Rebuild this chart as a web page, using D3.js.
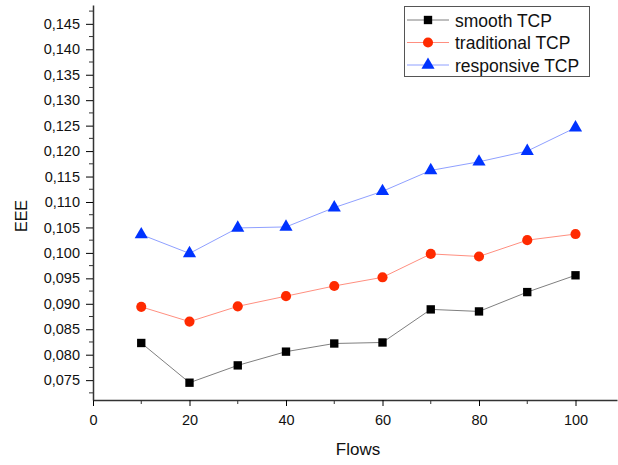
<!DOCTYPE html>
<html lang="en">
    <head>
        <meta charset="utf-8">
        <title>EEE vs Flows</title>
        <script type="text/javascript" src="https://cdn.jsdelivr.net/npm/d3@7"></script>
        <style>
            body { margin: 0; background: #fff; }
            text { font-family: "Liberation Sans", Arial, sans-serif; }
        </style>
    </head>
    <body>
        <script type="text/javascript">

            var flows = [10, 20, 30, 40, 50, 60, 70, 80, 90, 100];
            var smooth = [0.0823, 0.0745, 0.0779, 0.0806, 0.0822, 0.0824, 0.0889, 0.0885, 0.0923, 0.0956];
            var traditional = [0.0894, 0.0865, 0.0895, 0.0915, 0.0935, 0.0952, 0.0998, 0.0993, 0.1025, 0.1037];
            var responsive = [0.1036, 0.0999, 0.1049, 0.1051, 0.1089, 0.1121, 0.1162, 0.1179, 0.1200, 0.1246];
            var seriesNames = ["smooth TCP", "traditional TCP", "responsive TCP"];
            var xTicks = [0, 20, 40, 60, 80, 100];
            var yTicks = [0.075, 0.080, 0.085, 0.090, 0.095, 0.100, 0.105, 0.110, 0.115, 0.120, 0.125, 0.130, 0.135, 0.140, 0.145];

            var w = 618;
            var h = 465;
            var padLeft = 93, padRight = 617, padTop = 5, padBottom = 400;

            var svg = d3.select("body")
                .append("svg")
                .attr("width", w)
                .attr("height", h);

            var x = d3.scaleLinear().domain([0, 108.6]).range([padLeft, padRight]);
            var y = d3.scaleLinear().domain([0.0711, 0.1487]).range([padBottom, padTop]);

            var fmt = function(d) { return d3.format(".3f")(d).replace(".", ","); };

            // minor ticks
            var xMinor = d3.range(10, 108, 20);
            var yMinor = d3.range(0.0725, 0.1487, 0.005);

            var xAxis = svg.append("g").attr("transform", "translate(0," + padBottom + ")");
            xAxis.call(d3.axisBottom(x).tickValues(xTicks).tickSize(6).tickSizeOuter(0).tickPadding(9));
            xAxis.selectAll(".tick text").attr("font-size", 14.5).attr("fill", "#111");
            xAxis.selectAll("line.minor").data(xMinor).enter().append("line")
                .attr("x1", function(d) { return x(d); }).attr("x2", function(d) { return x(d); })
                .attr("y1", 0).attr("y2", 4).attr("stroke", "#333");

            var yAxis = svg.append("g").attr("transform", "translate(" + padLeft + ",0)");
            yAxis.call(d3.axisLeft(y).tickValues(yTicks).tickFormat(fmt).tickSize(7).tickSizeOuter(0).tickPadding(6));
            yAxis.selectAll(".tick text").attr("font-size", 14.5).attr("fill", "#111");
            yAxis.selectAll("line.minor").data(yMinor).enter().append("line")
                .attr("y1", function(d) { return y(d); }).attr("y2", function(d) { return y(d); })
                .attr("x1", 0).attr("x2", -4).attr("stroke", "#333");

            svg.selectAll(".domain").attr("stroke", "#333").attr("stroke-width", 1.5);

            svg.append("text").text("EEE")
                .attr("transform", "translate(27,216) rotate(-90)")
                .attr("text-anchor", "middle").attr("font-size", 16).attr("fill", "#111");
            svg.append("text").text("Flows")
                .attr("x", 358).attr("y", 455)
                .attr("text-anchor", "middle").attr("font-size", 17).attr("fill", "#111");

            var series = [
                { name: seriesNames[0], values: smooth, line: "#7f7f7f", fill: "#000000", shape: d3.symbolSquare },
                { name: seriesNames[1], values: traditional, line: "#ff8f80", fill: "#ff2a00", shape: d3.symbolCircle },
                { name: seriesNames[2], values: responsive, line: "#8fa0ff", fill: "#0033ff", shape: d3.symbolTriangle }
            ];
            var sizes = [70, 80, 75];

            var line = d3.line()
                .x(function(d, i) { return x(flows[i]); })
                .y(function(d) { return y(d); });

            series.forEach(function(s, k) {
                svg.append("path")
                    .attr("d", line(s.values))
                    .attr("fill", "none")
                    .attr("stroke", s.line)
                    .attr("stroke-width", 1);

                svg.selectAll("path.m" + k)
                    .data(s.values)
                    .enter()
                    .append("path")
                    .attr("class", "m" + k)
                    .attr("d", d3.symbol().type(s.shape).size(sizes[k]))
                    .attr("transform", function(d, i) {
                        return "translate(" + x(flows[i]) + "," + y(d) + ")";
                    })
                    .attr("fill", s.fill);
            });

            // legend
            var lg = svg.append("g");
            lg.append("rect").attr("x", 404.5).attr("y", 6.5).attr("width", 185).attr("height", 70)
                .attr("fill", "#fff").attr("stroke", "#555");
            series.forEach(function(s, k) {
                var ly = 20 + k * 22.5;
                lg.append("line").attr("x1", 407).attr("x2", 449).attr("y1", ly).attr("y2", ly)
                    .attr("stroke", s.line);
                lg.append("path").attr("d", d3.symbol().type(s.shape).size(sizes[k])())
                    .attr("transform", "translate(428," + ly + ")").attr("fill", s.fill);
                lg.append("text").text(s.name).attr("x", 455).attr("y", ly + 6.5)
                    .attr("font-size", 17.5).attr("fill", "#111");
            });

        </script>
    </body>
</html>
